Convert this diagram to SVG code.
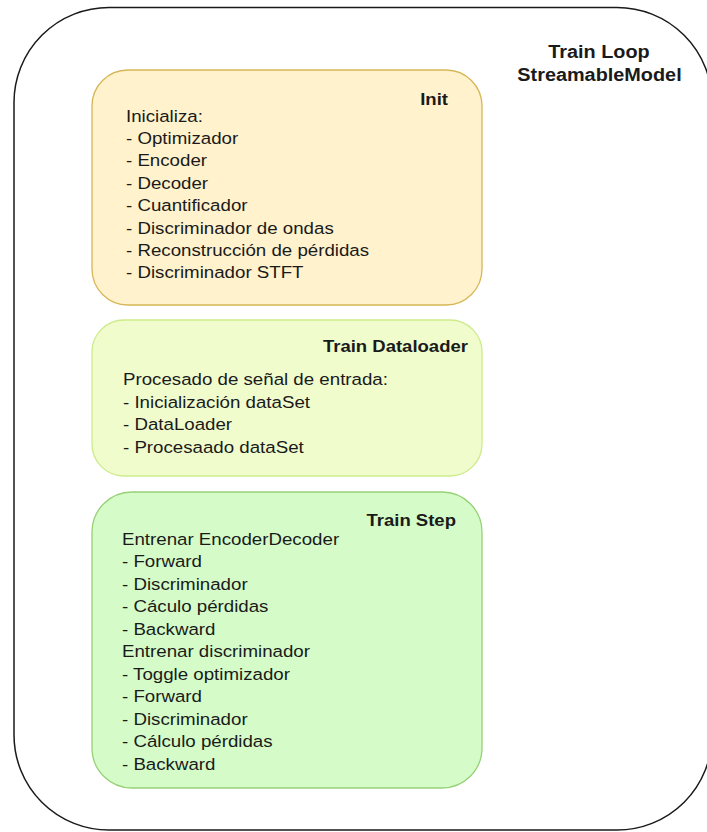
<svg xmlns="http://www.w3.org/2000/svg" width="707" height="832" viewBox="0 0 707 832">
  <style>
    text { font-family: "Liberation Sans", Arial, sans-serif; font-size: 17px; fill: #1a1a1a;
           transform-box: fill-box; transform-origin: left center; transform: scaleX(1.1); }
    .title { font-weight: bold; }
    .end { text-anchor: end; transform-origin: right center; transform: scaleX(1.09); }
    .big { font-size: 19px; text-anchor: middle; transform-origin: center; transform: scaleX(1.045); }
    .box { stroke-width: 1.3; }
  </style>
  <rect width="707" height="832" fill="#ffffff"/>

  <!-- outer container: Train Loop -->
  <g id="train-loop">
    <rect x="14" y="7.5" width="698" height="822.5" rx="95" ry="95" fill="#ffffff" stroke="#1a1a1a" stroke-width="1.5"/>
    <text class="title big" x="599" y="58">Train Loop</text>
    <text class="title big" x="599.5" y="81.5">StreamableModel</text>
  </g>

  <!-- Init -->
  <g id="init">
    <rect class="box" x="92" y="70" width="390" height="235" rx="36" ry="36" fill="#fff2cc" stroke="#d6b656"/>
    <text class="title end" x="448" y="105">Init</text>
    <text x="126" y="121.7">Inicializa:</text>
    <text x="126" y="144.1">- Optimizador</text>
    <text x="126" y="166.5">- Encoder</text>
    <text x="126" y="188.9">- Decoder</text>
    <text x="126" y="211.3">- Cuantificador</text>
    <text x="126" y="233.7">- Discriminador de ondas</text>
    <text x="126" y="256.1">- Reconstrucción de pérdidas</text>
    <text x="126" y="278.5">- Discriminador STFT</text>
  </g>

  <!-- Train Dataloader -->
  <g id="train-dataloader">
    <rect class="box" x="92" y="320" width="390" height="156" rx="32" ry="32" fill="#f0fccc" stroke="#cdeb8b"/>
    <text class="title end" x="468" y="351.7">Train Dataloader</text>
    <text x="123" y="385">Procesado de señal de entrada:</text>
    <text x="123" y="407.6">- Inicialización dataSet</text>
    <text x="123" y="430.2">- DataLoader</text>
    <text x="123" y="452.8">- Procesaado dataSet</text>
  </g>

  <!-- Train Step -->
  <g id="train-step">
    <rect class="box" x="92" y="492" width="390" height="296" rx="40" ry="40" fill="#d5fcc8" stroke="#97d077"/>
    <text class="title end" x="456" y="526">Train Step</text>
    <text x="122" y="545">Entrenar EncoderDecoder</text>
    <text x="122" y="567.5">- Forward</text>
    <text x="122" y="590">- Discriminador</text>
    <text x="122" y="612.5">- Cáculo pérdidas</text>
    <text x="122" y="635">- Backward</text>
    <text x="122" y="657.5">Entrenar discriminador</text>
    <text x="122" y="680">- Toggle optimizador</text>
    <text x="122" y="702.5">- Forward</text>
    <text x="122" y="725">- Discriminador</text>
    <text x="122" y="747.5">- Cálculo pérdidas</text>
    <text x="122" y="770">- Backward</text>
  </g>

  <!-- no connectors in this diagram -->
  <g id="connectors"/>
</svg>
